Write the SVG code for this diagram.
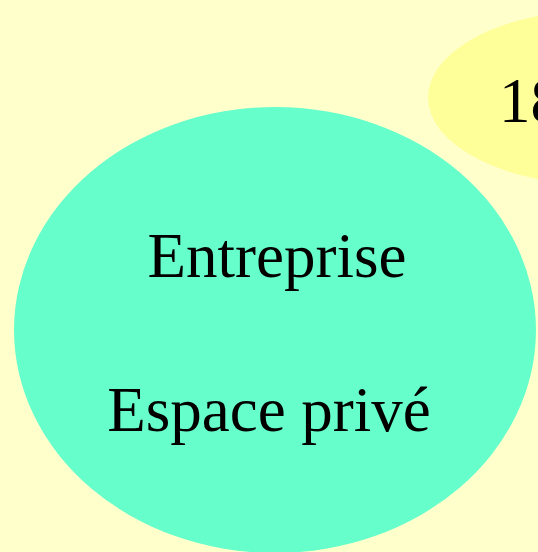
<svg xmlns="http://www.w3.org/2000/svg" width="538" height="552" viewBox="0 0 538 552">
<style>
.lbl{font-family:"Liberation Serif","Times New Roman",serif;font-size:63px;fill:#000}
</style>
<rect width="538" height="552" fill="#FFFFCC"/>
<g id="connectors"></g>
<g id="node-18">
<ellipse cx="600" cy="97.5" rx="172" ry="87.5" fill="#FFFF99"/>
<text class="lbl" x="499" y="122">18</text>
</g>
<g id="node-entreprise">
<ellipse cx="275" cy="330" rx="261" ry="223" fill="#66FFCC"/>
<text class="lbl" x="277" y="277" text-anchor="middle">Entreprise</text>
<text class="lbl" x="269" y="431" text-anchor="middle">Espace privé</text>
</g>
</svg>
